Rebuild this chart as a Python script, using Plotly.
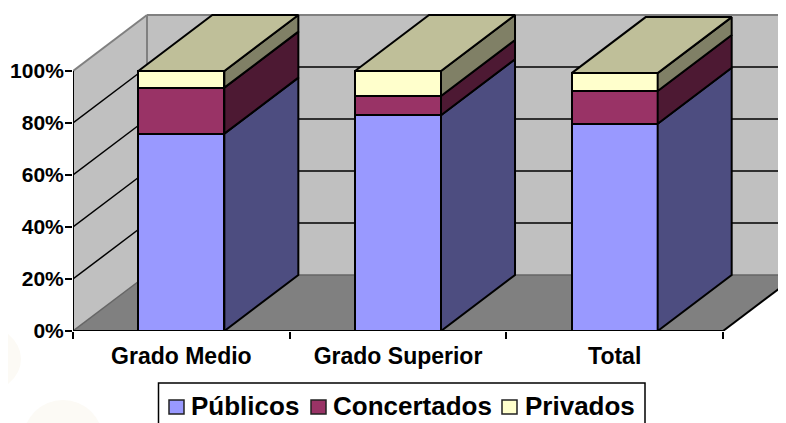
import plotly.graph_objects as go

categories = ["Grado Medio", "Grado Superior", "Total"]
publicos = [75.9, 83.0, 79.7]
concertados = [17.7, 7.4, 12.6]
privados = [6.4, 9.6, 6.9]
y_ticks = [0, 20, 40, 60, 80, 100]

PAGE = 8  # the page's own body margin
W, H = 786 - PAGE, 423 - PAGE
L, T = 73 - PAGE, 0
B = H - (331 - PAGE)
PX_PER_CAT = 216.67
PX_PER_PCT = 2.6
DX = 74 / PX_PER_CAT
DY = 56 / PX_PER_PCT
BAR_W = 86 / PX_PER_CAT
N = len(categories)
x_centers = [i + 0.5 for i in range(N)]
x_max = (W - L) / PX_PER_CAT
y_max = (H - B - T) / PX_PER_PCT

FONT = "Liberation Sans, Arial, sans-serif"
series = [
    ("Públicos", publicos, "#9999FF", "#4D4D80"),
    ("Concertados", concertados, "#993366", "#4D1933"),
    ("Privados", privados, "#FFFFCC", "#808066"),
]
TOP_COLOR = "#BFBF99"
LW = 2


def px(p):
    return (p - PAGE - L) / (W - L)


def py(p):
    return (H - B - (p - PAGE)) / (H - B - T)


def path(pts):
    return "M " + " L ".join(f"{x},{y}" for x, y in pts) + " Z"


shapes = []


def poly(pts, fill):
    shapes.append(dict(type="path", path=path(pts), xref="x", yref="y", layer="below",
                       fillcolor=fill, line=dict(color="rgba(0,0,0,0)", width=0)))


def seg(p, q, color, width):
    shapes.append(dict(type="line", x0=p[0], y0=p[1], x1=q[0], y1=q[1], xref="x", yref="y",
                       layer="below", line=dict(color=color, width=width)))


# pale watermark circles behind the chart
for cx0, cy0, cx1, cy1 in [(-60, 325, 21, 393), (23, 400, 103, 480)]:
    shapes.append(dict(type="circle", xref="paper", yref="paper", layer="below",
                       x0=px(cx0), x1=px(cx1), y0=py(cy0), y1=py(cy1),
                       fillcolor="#FCFAF5", line=dict(width=0)))

# walls and floor
poly([(0, 0), (DX, DY), (DX, 100 + DY), (0, 100)], "#C0C0C0")
poly([(DX, DY), (N + DX, DY), (N + DX, 100 + DY), (DX, 100 + DY)], "#C0C0C0")
poly([(0, 0), (N, 0), (N + DX, DY), (DX, DY)], "#808080")

# gridlines
for v in y_ticks[1:-1]:
    seg((0, v), (DX, v + DY), "#000000", 1.5)
    seg((DX, v + DY), (N + DX, v + DY), "#000000", 1.5)

# wall edges
seg((0, 100), (DX, 100 + DY), "#808080", 2)
seg((DX, 100 + DY), (N + DX, 100 + DY), "#808080", 2)
seg((DX, DY), (DX, 100 + DY), "#808080", 2)
seg((0, 0), (DX, DY), "#666666", 1.5)
seg((DX, DY), (N + DX, DY), "#666666", 1.5)
seg((N, 0), (N + DX, DY), "#000000", LW)

# legend box and swatches
shapes.append(dict(type="rect", xref="paper", yref="paper", x0=px(158.5), x1=px(645), y0=py(383), y1=py(440),
                   fillcolor="rgba(0,0,0,0)", line=dict(color="#000000", width=1.5)))
annotations = []
swatch_left = [169, 311, 502]
text_left = [189, 331, 523]
for (name, _, col, _s), sx, tx in zip(series, swatch_left, text_left):
    shapes.append(dict(type="rect", xref="paper", yref="paper", x0=px(sx), x1=px(sx + 15), y0=py(400), y1=py(414),
                       fillcolor=col, line=dict(color="#222222", width=1.5)))
    annotations.append(dict(text=f"<b>{name}</b>", xref="paper", yref="paper", x=px(tx), y=py(406),
                            xanchor="left", yanchor="middle", showarrow=False,
                            font=dict(size=26, family=FONT, color="#000000")))

fig = go.Figure()

# front faces
for name, vals, col, _ in series:
    fig.add_trace(go.Bar(x=x_centers, y=vals, name=name, width=BAR_W, cliponaxis=False, showlegend=False,
                         marker=dict(color=col, line=dict(color="#000000", width=LW))))

# side and top faces
for i, xc in enumerate(x_centers):
    x2 = xc + BAR_W / 2
    x1 = xc - BAR_W / 2
    base = 0
    for name, vals, col, side in series:
        top = base + vals[i]
        fig.add_trace(go.Scatter(
            x=[x2, x2 + DX, x2 + DX, x2, x2],
            y=[base, base + DY, top + DY, top, base],
            mode="lines", fill="toself", fillcolor=side,
            line=dict(color="#000000", width=LW), showlegend=False, hoverinfo="skip"))
        base = top
    fig.add_trace(go.Scatter(
        x=[x1, x2, x2 + DX, x1 + DX, x1],
        y=[base, base, base + DY, base + DY, base],
        mode="lines", fill="toself", fillcolor=TOP_COLOR,
        line=dict(color="#000000", width=LW), showlegend=False, hoverinfo="skip"))

# axis lines, limited to the front of the chart
fig.add_trace(go.Scatter(x=[0, N], y=[0, 0], mode="lines", cliponaxis=False,
                         line=dict(color="#000000", width=LW), showlegend=False, hoverinfo="skip"))
fig.add_trace(go.Scatter(x=[0, 0], y=[0, 100], mode="lines", cliponaxis=False,
                         line=dict(color="#000000", width=LW), showlegend=False, hoverinfo="skip"))

fig.update_layout(
    width=W, height=H, margin=dict(l=L, r=0, t=T, b=B, pad=0, autoexpand=False),
    paper_bgcolor="#FFFFFF", plot_bgcolor="rgba(0,0,0,0)",
    barmode="stack", shapes=shapes, annotations=annotations, showlegend=False,
    font=dict(family=FONT, color="#000000"),
    xaxis=dict(range=[0, x_max], tickmode="array", tickvals=x_centers, ticktext=[f"<b>{c}</b>" for c in categories],
               ticks="", showgrid=False, zeroline=False, showline=False,
               ticklabelstandoff=9,
               tickfont=dict(size=23, family=FONT),
               minor=dict(tickmode="array", tickvals=list(range(N + 1)), ticks="outside", ticklen=7,
                          tickwidth=2, tickcolor="#000000", showgrid=False)),
    yaxis=dict(range=[0, y_max], tickmode="array", tickvals=y_ticks, ticktext=[f"<b>{v}%</b>" for v in y_ticks],
               ticks="outside", ticklen=7, tickwidth=2, tickcolor="#000000",
               showgrid=False, zeroline=False, showline=False,
               ticklabelstandoff=-3,
               tickfont=dict(size=21, family=FONT)),
)

fig.write_html("out.html", config=dict(displayModeBar=False))
